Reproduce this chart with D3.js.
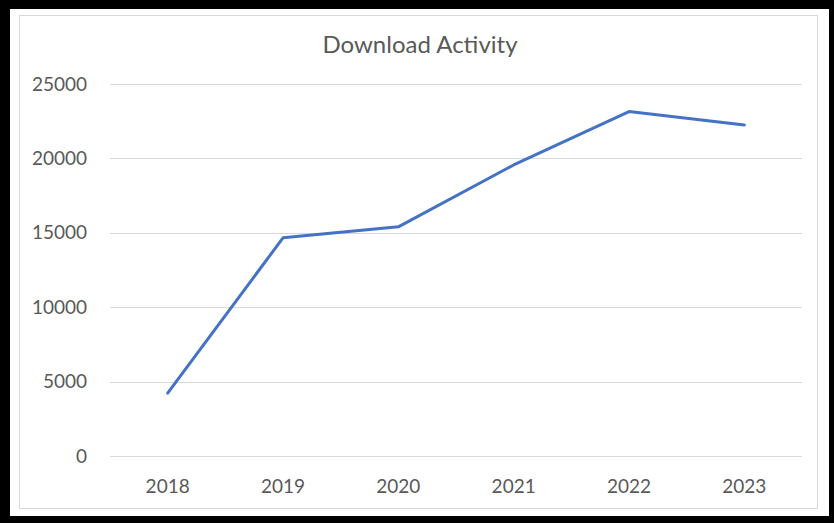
<!DOCTYPE html>
<html><head><meta charset="utf-8">
<script src="https://cdn.jsdelivr.net/npm/d3@7"></script>
<style>html,body{margin:0;padding:0;background:#000;}svg{display:block;}</style>
</head><body>
<script>
const years = ["2018","2019","2020","2021","2022","2023"];
const downloads = [4230, 14660, 15400, 19560, 23150, 22250];
const yTicks = [0, 5000, 10000, 15000, 20000, 25000];
const title = "Download Activity";

const W = 834, H = 523;
const svg = d3.select("body").append("svg").attr("width", W).attr("height", H);
svg.append("rect").attr("x",0).attr("y",0).attr("width",W).attr("height",H).attr("fill","#000");
svg.append("rect").attr("x",10).attr("y",9).attr("width",819).attr("height",507).attr("fill","#fff");
svg.append("rect").attr("x",19.5).attr("y",15.5).attr("width",798).attr("height",493)
  .attr("fill","none").attr("stroke","#d9d9d9").attr("stroke-width",1);

const mLeft = 110, mRight = 802, mTop = 84, mBottom = 456;
const x = d3.scaleBand().domain(years).range([mLeft, mRight]);
const y = d3.scaleLinear().domain([0, 25000]).range([mBottom, mTop]);

const font = "Lato, 'Open Sans', sans-serif";

svg.append("g").selectAll("line").data(yTicks).join("line")
  .attr("x1", mLeft).attr("x2", mRight)
  .attr("y1", d => Math.round(y(d)) + 0.5).attr("y2", d => Math.round(y(d)) + 0.5)
  .attr("stroke", "#d9d9d9").attr("stroke-width", 1);

svg.append("g").selectAll("text").data(yTicks).join("text")
  .attr("x", 87).attr("y", d => y(d)).attr("dy", "0.35em")
  .attr("text-anchor", "end").attr("font-family", font).attr("font-size", 19)
  .attr("fill", "#595959").text(d => d);

svg.append("g").selectAll("text").data(years).join("text")
  .attr("x", d => x(d) + x.bandwidth()/2).attr("y", 486).attr("dy", "0.35em")
  .attr("text-anchor", "middle").attr("font-family", font).attr("font-size", 19)
  .attr("fill", "#595959").text(d => d);

const line = d3.line().x((d,i) => x(years[i]) + x.bandwidth()/2).y(d => y(d));
svg.append("path").datum(downloads).attr("d", line)
  .attr("fill", "none").attr("stroke", "#4472C4").attr("stroke-width", 3)
  .attr("stroke-linejoin", "round").attr("stroke-linecap", "round");

svg.append("text").attr("x", 420).attr("y", 45).attr("dy", "0.35em")
  .attr("text-anchor", "middle").attr("font-family", font).attr("font-size", 24)
  .attr("fill", "#595959").text(title);
</script>
</body></html>
